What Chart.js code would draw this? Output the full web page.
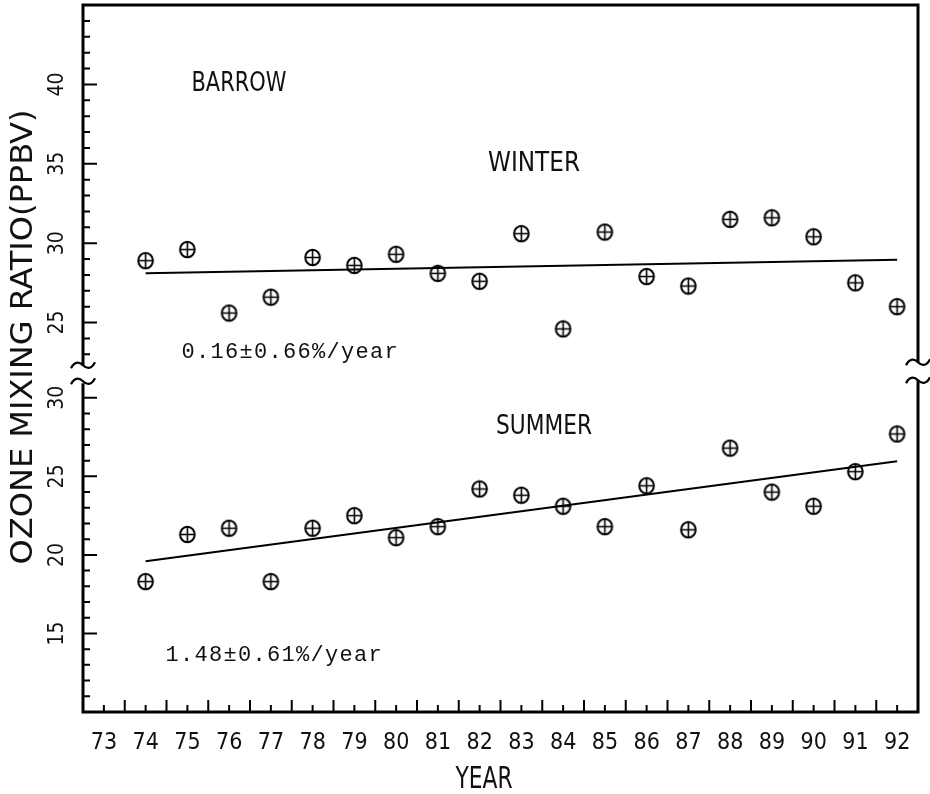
<!DOCTYPE html>
<html>
<head>
<meta charset="utf-8">
<script src="https://cdn.jsdelivr.net/npm/chart.js@4"></script>
<style>
  html, body { margin: 0; padding: 0; background: #fff; }
  #wrap { width: 930px; height: 794px; position: relative; }
</style>
</head>
<body>
<div id="wrap"><canvas id="grafico"></canvas></div>
<script>
// ===== dados =====
const anos = [74, 75, 76, 77, 78, 79, 80, 81, 82, 83, 84, 85, 86, 87, 88, 89, 90, 91, 92];
const inverno = [28.9, 29.6, 25.6, 26.6, 29.1, 28.6, 29.3, 28.1, 27.6, 30.6, 24.6, 30.7, 27.9, 27.3, 31.5, 31.6, 30.4, 27.5, 26.0];
const verao = [18.3, 21.3, 21.7, 18.3, 21.7, 22.5, 21.1, 21.8, 24.2, 23.8, 23.1, 21.8, 24.4, 21.6, 26.8, 24.0, 23.1, 25.3, 27.7];

// retas de tendência (extremos)
const anosTendencia = [74, 92];
const tendInverno = [28.1, 28.96];
const tendVerao = [19.6, 25.97];

// rótulos dos eixos
const rotulosAno = [73, 74, 75, 76, 77, 78, 79, 80, 81, 82, 83, 84, 85, 86, 87, 88, 89, 90, 91, 92];
const rotulosSup = [25, 30, 35, 40];
const rotulosInf = [15, 20, 25, 30];

const FONTE = '"DejaVu Sans Condensed", "DejaVu Sans", sans-serif';
const MONO = '"Liberation Mono", "Courier New", monospace';

// marcador: círculo com cruz
function criarMarcador() {
    const c = document.createElement('canvas');
    c.width = 19; c.height = 19;
    const g = c.getContext('2d');
    g.strokeStyle = '#000';
    g.lineWidth = 2;
    g.beginPath();
    g.ellipse(9.5, 9.5, 7.3, 7.8, 0, 0, Math.PI * 2);
    g.stroke();
    g.lineWidth = 1.6;
    g.beginPath();
    g.moveTo(9.5, 2); g.lineTo(9.5, 17);
    g.moveTo(2.2, 9.5); g.lineTo(16.8, 9.5);
    g.stroke();
    return c;
}
const marcador = criarMarcador();

const pontos = (xs, ys) => xs.map((x, i) => ({ x: x, y: ys[i] }));

function texto(ctx, t, x, y, size, largura, rot) {
    ctx.save();
    ctx.translate(x, y);
    if (rot) ctx.rotate(rot);
    ctx.font = size + 'px ' + FONTE;
    ctx.textAlign = 'center';
    ctx.textBaseline = 'alphabetic';
    if (largura) {
        const w = ctx.measureText(t).width;
        ctx.scale(largura / w, 1);
    }
    ctx.fillStyle = '#111';
    ctx.fillText(t, 0, size * 0.36);
    ctx.restore();
}

function textoMono(ctx, t, x0, base, passo, size) {
    ctx.save();
    ctx.font = size + 'px ' + MONO;
    ctx.textAlign = 'center';
    ctx.textBaseline = 'alphabetic';
    ctx.fillStyle = '#111';
    for (let i = 0; i < t.length; i++) {
        ctx.fillText(t[i], x0 + i * passo, base);
    }
    ctx.restore();
}

function onda(ctx, x, y) {
    ctx.beginPath();
    ctx.moveTo(x - 12, y + 3);
    ctx.bezierCurveTo(x - 8, y - 5, x - 3, y - 3, x, y);
    ctx.bezierCurveTo(x + 3, y + 3, x + 8, y + 5, x + 12, y - 3);
    ctx.stroke();
}

const decoracao = {
    id: 'decoracao',
    afterDraw(chart) {
        const ctx = chart.ctx;
        const a = chart.chartArea;
        const sx = chart.scales.x;
        const sup = chart.scales.ySup;
        const inf = chart.scales.yInf;
        const corte = sup.bottom;
        const ondaSup = corte - 5;
        const ondaInf = corte + 11;

        ctx.save();
        ctx.strokeStyle = '#000';
        ctx.lineCap = 'butt';

        // moldura
        ctx.lineWidth = 3;
        ctx.beginPath();
        ctx.moveTo(a.left, ondaSup); ctx.lineTo(a.left, a.top);
        ctx.lineTo(a.right, a.top); ctx.lineTo(a.right, ondaSup - 3);
        ctx.moveTo(a.right, ondaInf - 1); ctx.lineTo(a.right, a.bottom);
        ctx.lineTo(a.left, a.bottom); ctx.lineTo(a.left, ondaInf + 2);
        ctx.stroke();

        // quebras do eixo
        ctx.lineWidth = 2.2;
        onda(ctx, a.left, ondaSup);
        onda(ctx, a.left, ondaInf);
        onda(ctx, a.right, ondaSup - 3);
        onda(ctx, a.right, ondaInf - 1);

        // marcas do eixo x
        ctx.lineWidth = 2;
        ctx.beginPath();
        rotulosAno.forEach(v => {
            const px = sx.getPixelForValue(v);
            ctx.moveTo(px, a.bottom); ctx.lineTo(px, a.bottom - 7);
            if (v < 92) {
                const pm = sx.getPixelForValue(v + 0.5);
                ctx.moveTo(pm, a.bottom); ctx.lineTo(pm, a.bottom - 12);
            }
        });
        // marcas do eixo y
        for (let v = 23; v <= 44; v++) {
            const py = sup.getPixelForValue(v);
            ctx.moveTo(a.left, py); ctx.lineTo(a.left + (v % 5 === 0 ? 14 : 7), py);
        }
        for (let v = 11; v <= 30; v++) {
            const py = inf.getPixelForValue(v);
            ctx.moveTo(a.left, py); ctx.lineTo(a.left + (v % 5 === 0 ? 14 : 7), py);
        }
        ctx.stroke();
        ctx.restore();

        // rótulos
        rotulosAno.forEach(v => texto(ctx, String(v), sx.getPixelForValue(v), 741, 23));
        rotulosSup.forEach(v => texto(ctx, String(v), 55, sup.getPixelForValue(v), 21, 0, -Math.PI / 2));
        rotulosInf.forEach(v => texto(ctx, String(v), 55, inf.getPixelForValue(v), 21, 0, -Math.PI / 2));

        texto(ctx, 'OZONE MIXING RATIO(PPBV)', 21, 337, 30, 455, -Math.PI / 2);
        texto(ctx, 'YEAR', 484, 777, 30, 57);

        texto(ctx, 'BARROW', 239, 81, 27, 95);
        texto(ctx, 'WINTER', 534, 161, 27, 92);
        texto(ctx, 'SUMMER', 544, 424, 27, 96);

        textoMono(ctx, '0.16\u00b10.66%/year', 188, 358, 14.5, 22);
        textoMono(ctx, '1.48\u00b10.61%/year', 172, 661, 14.5, 22);
    }
};

const escondido = {
    ticks: { display: false },
    grid: { display: false, drawTicks: false },
    border: { display: false }
};

new Chart(document.getElementById('grafico'), {
    type: 'scatter',
    data: {
        datasets: [
            {
                label: 'Winter',
                data: pontos(anos, inverno),
                yAxisID: 'ySup',
                pointStyle: marcador,
                showLine: false
            },
            {
                label: 'Summer',
                data: pontos(anos, verao),
                yAxisID: 'yInf',
                pointStyle: marcador,
                showLine: false
            },
            {
                type: 'line',
                label: 'Winter trend',
                data: pontos(anosTendencia, tendInverno),
                yAxisID: 'ySup',
                borderColor: '#000',
                borderWidth: 2,
                pointRadius: 0
            },
            {
                type: 'line',
                label: 'Summer trend',
                data: pontos(anosTendencia, tendVerao),
                yAxisID: 'yInf',
                borderColor: '#000',
                borderWidth: 2,
                pointRadius: 0
            }
        ]
    },
    options: {
        responsive: true,
        maintainAspectRatio: false,
        animation: false,
        devicePixelRatio: 1,
        clip: false,
        layout: { padding: { left: 83, right: 12, top: 4, bottom: 82 } },
        plugins: {
            legend: { display: false },
            tooltip: { enabled: false }
        },
        scales: {
            x: { type: 'linear', min: 72.5, max: 92.5, ...escondido },
            yInf: {
                type: 'linear', position: 'left', stack: 'ozonio', stackWeight: 342.3,
                weight: 0, min: 10, max: 31.76, ...escondido
            },
            ySup: {
                type: 'linear', position: 'left', stack: 'ozonio', stackWeight: 365.7,
                weight: 1, min: 22, max: 45, ...escondido
            }
        }
    },
    plugins: [decoracao]
});
</script>
</body>
</html>
